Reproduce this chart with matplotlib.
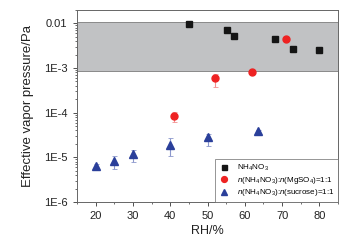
import numpy as np
import matplotlib
matplotlib.use('Agg')
import matplotlib.pyplot as plt
from matplotlib.lines import Line2D
from matplotlib.ticker import MultipleLocator, LogLocator, NullFormatter, FixedFormatter, FixedLocator

plt.rcParams['font.family'] = ['Liberation Sans', 'DejaVu Sans']
plt.rcParams['mathtext.fontset'] = 'custom'
plt.rcParams['mathtext.rm'] = 'Liberation Sans'
plt.rcParams['mathtext.it'] = 'Liberation Sans:italic'

# ---- data ----
rh_nh4 = [45, 55.3, 57.2, 68, 73, 80]
p_nh4  = [9.8e-3, 7.0e-3, 5.3e-3, 4.4e-3, 2.7e-3, 2.5e-3]

rh_mg  = [41, 52, 62, 71]
p_mg   = [8.5e-5, 6.0e-4, 8.3e-4, 4.4e-3]
lo_mg  = [6.3e-5, 3.8e-4, 7.6e-4, 4.4e-3]
hi_mg  = [1.05e-4, 7.4e-4, 9.0e-4, 4.4e-3]

rh_su  = [20, 25, 30, 40, 50, 63.5]
p_su   = [6.5e-6, 8.5e-6, 1.2e-5, 1.9e-5, 2.8e-5, 3.8e-5]
lo_su  = [5.8e-6, 5.5e-6, 8.0e-6, 1.05e-5, 1.8e-5, 3.2e-5]
hi_su  = [7.0e-6, 1.1e-5, 1.45e-5, 2.7e-5, 3.4e-5, 4.2e-5]

band = (8.5e-4, 1.1e-2)

yticks  = [1e-6, 1e-5, 1e-4, 1e-3, 1e-2]
ylabels = ['1E-6', '1E-5', '1E-4', '1E-3', '0.01']

labels = [r'NH$_4$NO$_3$',
          r'$n$(NH$_4$NO$_3$):$n$(MgSO$_4$)=1:1',
          r'$n$(NH$_4$NO$_3$):$n$(sucrose)=1:1']
c_black, c_red, c_blue = '#151515', '#ee2222', '#2a3f9a'


def yerr(p, lo, hi):
    p, lo, hi = map(np.asarray, (p, lo, hi))
    return np.vstack([p - lo, hi - p])


fig = plt.figure(figsize=(3.59, 2.44), dpi=100)
ax = fig.add_axes([0.2145, 0.172, 0.727, 0.789])

ax.axhspan(*band, facecolor='#c1c2c4', edgecolor='#8a8a8a', lw=0.7, zorder=0)

ax.plot(rh_nh4, p_nh4, 's', color=c_black, ms=4.3, zorder=4)
ax.errorbar(rh_mg, p_mg, yerr=yerr(p_mg, lo_mg, hi_mg), fmt='o',
            color=c_red, ecolor='#f39090', elinewidth=0.8, capsize=1.8,
            capthick=0.6, ms=5, zorder=4)
ax.errorbar(rh_su, p_su, yerr=yerr(p_su, lo_su, hi_su), fmt='^',
            color=c_blue, ecolor='#8c98cc', elinewidth=0.8, capsize=1.8,
            capthick=0.6, ms=5.5, zorder=4)

ax.set_yscale('log')
ax.set_xlim(15, 85)
ax.set_ylim(1e-6, 10 ** -1.69)
ax.xaxis.set_major_locator(MultipleLocator(10))
ax.xaxis.set_minor_locator(MultipleLocator(5))
ax.yaxis.set_major_locator(FixedLocator(yticks))
ax.yaxis.set_major_formatter(FixedFormatter(ylabels))
ax.yaxis.set_minor_locator(LogLocator(base=10, subs=np.arange(2, 10)))
ax.yaxis.set_minor_formatter(NullFormatter())

ax.tick_params(which='both', direction='out', labelsize=8, colors='#333333',
               labelcolor='#222222', top=False, right=False, pad=4)
ax.tick_params(which='major', length=3, width=0.6)
ax.tick_params(which='minor', length=1.6, width=0.5)
ax.tick_params(axis='x', pad=3.5)
for s in ax.spines.values():
    s.set_color('#666666')
    s.set_linewidth(0.7)

ax.set_xlabel('RH/%', fontsize=9, color='#222222', labelpad=3)
ax.set_ylabel('Effective vapor pressure/Pa', fontsize=9.5, color='#222222',
              labelpad=7)

handles = [Line2D([], [], ls='none', marker='s', color=c_black, ms=3.6),
           Line2D([], [], ls='none', marker='o', color=c_red, ms=4.2),
           Line2D([], [], ls='none', marker='^', color=c_blue, ms=4.4)]
leg = ax.legend(handles, labels, loc='lower right', fontsize=5.8, frameon=True,
                fancybox=False, borderaxespad=0, handletextpad=1.0,
                borderpad=0.45, labelspacing=0.2, handlelength=1.3)
leg.get_frame().set_edgecolor('#666666')
leg.get_frame().set_linewidth(0.6)

fig.savefig('out.png', dpi=100)
plt.close(fig)
